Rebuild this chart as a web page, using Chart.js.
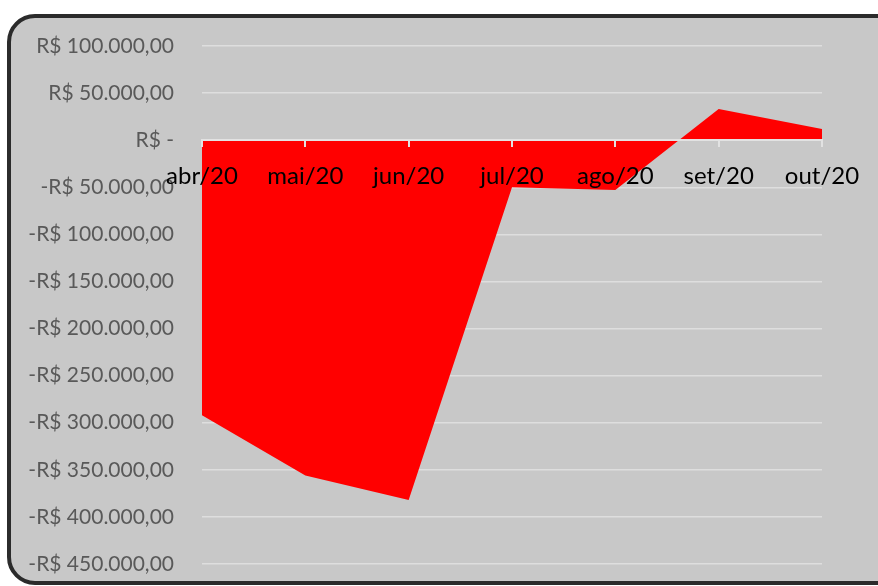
<!DOCTYPE html>
<html>
<head>
<meta charset="utf-8">
<script src="https://cdn.jsdelivr.net/npm/chart.js@4/dist/chart.umd.min.js"></script>
<style>
  html, body { margin: 0; padding: 0; background: #fff; overflow: hidden; }
  #wrap { position: relative; width: 878px; height: 586px; overflow: hidden; }
  #box {
    position: absolute; left: 7px; top: 14px; width: 920px; height: 571px;
    box-sizing: border-box; border: 4px solid #2b2b2b; border-radius: 28px;
    background: #c8c8c8;
  }
  #c { position: absolute; left: 0; top: 0; }
</style>
</head>
<body>
<div id="wrap">
  <div id="box"></div>
  <canvas id="c" width="878" height="586"></canvas>
</div>
<script>
// months
const months = ['abr/20', 'mai/20', 'jun/20', 'jul/20', 'ago/20', 'set/20', 'out/20'];
// saldo (R$)
const saldo = [-292000, -356000, -382000, -50000, -53000, 33000, 12000];
// y axis range
const yMin = -450000;
const yMax = 100000;
const yStep = 50000;

function brl(v) {
  if (v === 0) return 'R$ -';
  const s = Math.abs(v).toLocaleString('pt-BR', { minimumFractionDigits: 2, maximumFractionDigits: 2 });
  return (v < 0 ? '-R$ ' : 'R$ ') + s;
}

const fontFam = 'Lato, "Open Sans", sans-serif';

new Chart(document.getElementById('c').getContext('2d'), {
  type: 'line',
  data: {
    labels: months,
    datasets: [{
      data: saldo,
      fill: 'origin',
      backgroundColor: '#ff0000',
      borderWidth: 0,
      pointRadius: 0,
      tension: 0
    }]
  },
  options: {
    responsive: false,
    animation: false,
    layout: { padding: { top: 46, bottom: 22, right: 56, left: 0 } },
    plugins: { legend: { display: false }, tooltip: { enabled: false } },
    scales: {
      x: {
        position: { y: 0 },
        offset: false,
        // axis sits at y = 0 inside the plot, takes no room at the bottom
        afterFit: s => { s.height = 0; },
        grid: { z: 1, drawOnChartArea: false, drawTicks: true, tickLength: 6, color: '#e2e2e2', lineWidth: 2 },
        border: { display: true, color: '#e2e2e2', width: 2, z: 1 },
        ticks: { z: 1, color: '#000', padding: 16, maxRotation: 0, autoSkip: false, font: { family: fontFam, size: 24 } }
      },
      y: {
        min: yMin,
        max: yMax,
        afterFit: s => {
          s.width = 202;
          // tick padding otherwise pads the plot top/bottom too
          s.paddingTop = 0;
          s.paddingBottom = 0;
        },
        grid: { drawTicks: false, color: '#dedede', lineWidth: 1.5 },
        border: { display: false },
        ticks: {
          stepSize: yStep,
          padding: 28,
          color: '#595959',
          font: { family: fontFam, size: 21 },
          callback: v => brl(v)
        }
      }
    }
  }
});
</script>
</body>
</html>
